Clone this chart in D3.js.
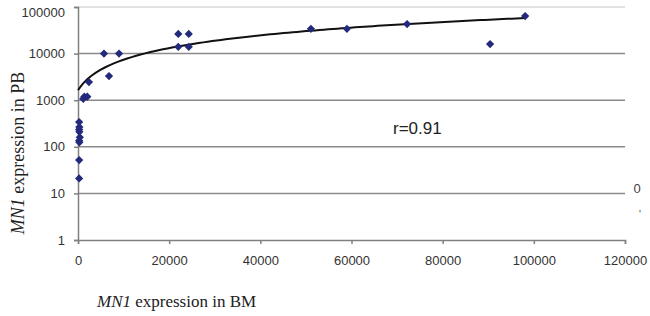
<!DOCTYPE html>
<html>
<head>
<meta charset="utf-8">
<script src="https://cdn.jsdelivr.net/npm/d3@7"></script>
<style>
  html, body { margin: 0; padding: 0; background: #fff; }
  svg { display: block; }
</style>
</head>
<body>
<svg id="chart" width="650" height="316"></svg>
<script>
// ---- data ----
const bmExpr = [250, 300, 250, 300, 400, 250, 300, 250, 250,
                1380, 2040, 1160, 2400, 5700, 6800, 9000,
                22000, 24300, 22000, 24300, 51100, 59000, 72200, 90400, 98100];
const pbExpr = [340, 265, 235, 210, 160, 135, 125, 52, 21,
                1190, 1190, 1070, 2450, 10000, 3300, 10000,
                26500, 26500, 14000, 14000, 34000, 34000, 43000, 16000, 64000];
const xTicks = [0, 20000, 40000, 60000, 80000, 100000, 120000];
const yTicks = [1, 10, 100, 1000, 10000, 100000];
const trendIntercept = 1650;   // linear trendline
const trendSlope = 0.574;
const rLabel = "r=0.91";

// ---- layout ----
const svg = d3.select("#chart");
const L = 78, R = 625, T = 7, B = 240;
const x = d3.scaleLinear().domain([0, 120000]).range([L, R]);
const y = d3.scaleLog().domain([1, 100000]).range([B, T]);
const axisColor = "#808080";

// gridlines
svg.append("g").selectAll("line").data(yTicks.filter(d => d > 1)).join("line")
  .attr("x1", L).attr("x2", R)
  .attr("y1", d => y(d)).attr("y2", d => y(d))
  .attr("stroke", d => d === 100000 ? "#d9d9d9" : "#8a8a8a")
  .attr("stroke-width", 1.5);

// y axis
const yAxis = svg.append("g").attr("transform", `translate(${L},0)`)
  .call(d3.axisLeft(y).tickValues(yTicks).tickFormat(d3.format("d")).tickSize(4).tickPadding(9));
yAxis.select(".domain").attr("stroke", axisColor).attr("stroke-width", 1.5);
yAxis.selectAll(".tick line").attr("stroke", axisColor).attr("stroke-width", 1.5);
yAxis.selectAll("text").attr("font-family", "Liberation Sans, Arial, sans-serif")
  .attr("font-size", 13).attr("fill", "#333");
yAxis.selectAll(".tick").filter(d => d === 100000).select("text").attr("dy", "0.75em");

// x axis
const xAxis = svg.append("g").attr("transform", `translate(0,${B})`)
  .call(d3.axisBottom(x).tickValues(xTicks).tickFormat(d3.format("d")).tickSize(4).tickSizeOuter(4).tickPadding(12));
xAxis.select(".domain").attr("stroke", axisColor).attr("stroke-width", 1.5);
xAxis.selectAll(".tick line").attr("stroke", axisColor).attr("stroke-width", 1.5);
xAxis.selectAll("text").attr("font-family", "Liberation Sans, Arial, sans-serif")
  .attr("font-size", 13).attr("fill", "#333");

// trendline
const xMin = d3.min(bmExpr) - 250, xMax = d3.max(bmExpr);
const trendPts = d3.range(0, 101).map(i => {
  const xv = xMin + (xMax - xMin) * i / 100;
  return [xv, trendIntercept + trendSlope * xv];
});
svg.append("path").datum(trendPts)
  .attr("d", d3.line().x(d => x(d[0])).y(d => y(d[1])))
  .attr("fill", "none").attr("stroke", "#111").attr("stroke-width", 2);

// points (diamonds)
const pts = bmExpr.map((v, i) => [v, pbExpr[i]]);
svg.append("g").selectAll("path").data(pts).join("path")
  .attr("d", d3.symbol().type(d3.symbolSquare).size(34))
  .attr("transform", d => `translate(${x(d[0])},${y(d[1])}) rotate(45)`)
  .attr("fill", "#232a7c");

// r label
svg.append("text").attr("x", 393).attr("y", 134)
  .attr("font-family", "Liberation Sans, Arial, sans-serif").attr("font-size", 17)
  .attr("fill", "#222").text(rLabel);

// axis titles
const yt = svg.append("text")
  .attr("transform", "translate(24,153) rotate(-90)")
  .attr("text-anchor", "middle")
  .attr("font-family", "Liberation Serif, Times New Roman, serif").attr("font-size", 18)
  .attr("fill", "#222");
yt.append("tspan").attr("font-style", "italic").text("MN1");
yt.append("tspan").text(" expression in PB");

const xt = svg.append("text").attr("x", 97).attr("y", 307)
  .attr("font-family", "Liberation Serif, Times New Roman, serif").attr("font-size", 17)
  .attr("fill", "#222");
xt.append("tspan").attr("font-style", "italic").text("MN1");
xt.append("tspan").text(" expression in BM");

// legend remnants at right edge
svg.append("text").attr("x", 637).attr("y", 193).attr("text-anchor", "middle")
  .attr("font-family", "Liberation Sans, Arial, sans-serif").attr("font-size", 13)
  .attr("fill", "#444").text("0");
svg.append("text").attr("x", 640).attr("y", 218).attr("text-anchor", "middle")
  .attr("font-family", "Liberation Sans, Arial, sans-serif").attr("font-size", 10)
  .attr("fill", "#444").text("'");
</script>
</body>
</html>
